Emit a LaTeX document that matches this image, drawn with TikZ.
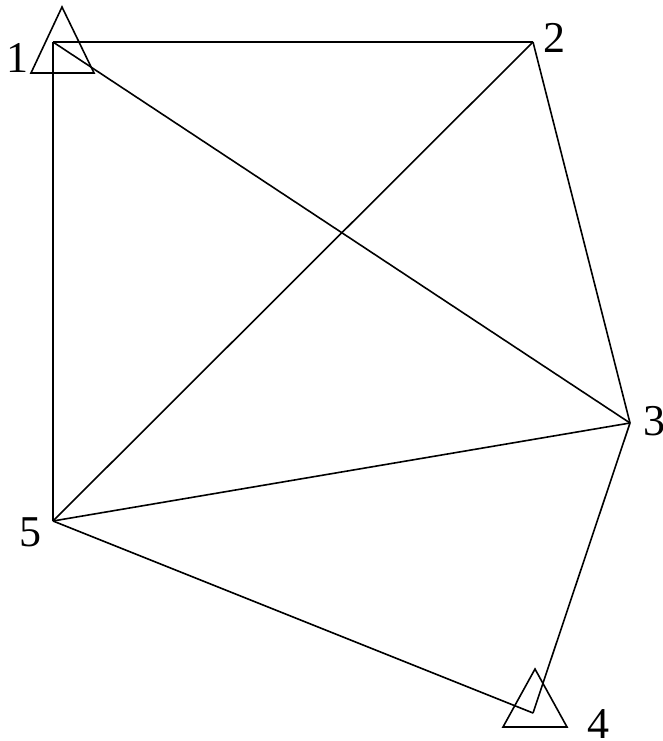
\documentclass[tikz,border=0pt]{standalone}
\usepackage{fontspec}
\setmainfont{Liberation Serif}
\begin{document}
\begin{tikzpicture}[x=1pt,y=-1pt,
  edge/.style={line width=1.6pt,line join=miter},
  support/.style={line width=1.6pt,line join=miter},
  lbl/.style={inner sep=0pt,font=\fontsize{44}{44}\selectfont}]
\useasboundingbox (0,0) rectangle (663,741);
\coordinate (n1) at (53,42);
\coordinate (n2) at (533,42);
\coordinate (n3) at (630,423);
\coordinate (n4) at (533,713);
\coordinate (n5) at (53,521);
\draw[edge] (n1) -- (n2);
\draw[edge] (n1) -- (n5);
\draw[edge] (n1) -- (n3);
\draw[edge] (n2) -- (n5);
\draw[edge] (n2) -- (n3);
\draw[edge] (n3) -- (n5);
\draw[edge] (n3) -- (n4);
\draw[edge] (n5) -- (n4);
\draw[support] (62,7) -- (94,73) -- (31,73) -- cycle;
\draw[support] (535,669) -- (567,727) -- (503,727) -- cycle;
\node[lbl] (l1) at (17,58) {1};
\node[lbl] (l2) at (554,38) {2};
\node[lbl] (l3) at (654,421) {3};
\node[lbl] (l4) at (598,724) {4};
\node[lbl] (l5) at (30,532) {5};
\end{tikzpicture}
\end{document}
